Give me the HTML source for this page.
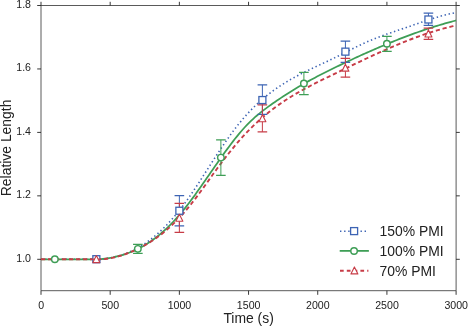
<!DOCTYPE html>
<html><head><meta charset="utf-8"><style>
html,body{margin:0;padding:0;background:#fff;}
svg{display:block;will-change:transform;}
text{font-family:"Liberation Sans",sans-serif;fill:#222;}
.tl{font-size:10.6px;}
.al{font-size:13.9px;}
.lg{font-size:13.9px;}
</style></head><body>
<svg width="468" height="327" viewBox="0 0 468 327">
<path d="M41.0,5.5H456.1M41.0,290.7H456.1M41.0,5.5V290.7M456.1,5.5V290.7" stroke="#5a5a5a" stroke-width="1" fill="none"/>
<path d="M41.00,290.7V294.8M41.00,5.5V1.8M110.18,290.7V294.8M110.18,5.5V1.8M179.37,290.7V294.8M179.37,5.5V1.8M248.55,290.7V294.8M248.55,5.5V1.8M317.73,290.7V294.8M317.73,5.5V1.8M386.92,290.7V294.8M386.92,5.5V1.8M456.10,290.7V294.8M456.10,5.5V1.8M41.0,259.30H37.2M456.1,259.30H459.8M41.0,195.85H37.2M456.1,195.85H459.8M41.0,132.40H37.2M456.1,132.40H459.8M41.0,68.95H37.2M456.1,68.95H459.8M41.0,5.50H37.2M456.1,5.50H459.8" stroke="#222" stroke-width="0.9" fill="none"/>
<path d="M41.00,259.25 L43.00,259.25 L45.00,259.25 L47.00,259.25 L49.00,259.25 L51.00,259.25 L53.00,259.25 L55.00,259.25 L57.00,259.25 L59.00,259.25 L61.00,259.25 L63.00,259.25 L65.00,259.25 L67.00,259.25 L69.00,259.25 L71.00,259.25 L73.00,259.25 L75.00,259.25 L77.00,259.25 L79.00,259.25 L81.00,259.25 L83.00,259.25 L85.00,259.25 L87.00,259.25 L89.00,259.25 L91.00,259.25 L93.00,259.25 L95.00,259.25 L97.00,259.25 L99.00,259.30 L101.00,259.30 L103.00,259.09 L105.00,258.81 L107.00,258.49 L109.00,258.14 L111.00,257.75 L113.00,257.31 L115.00,256.84 L117.00,256.32 L119.00,255.75 L121.00,255.14 L123.00,254.48 L125.00,253.76 L127.00,253.00 L129.00,252.18 L131.00,251.30 L133.00,250.37 L135.00,249.38 L137.00,248.32 L139.00,247.21 L141.00,246.03 L143.00,244.78 L145.00,243.48 L147.00,242.10 L149.00,240.67 L151.00,239.16 L153.00,237.59 L155.00,235.96 L157.00,234.25 L159.00,232.48 L161.00,230.64 L163.00,228.73 L165.00,226.75 L167.00,224.70 L169.00,222.58 L171.00,220.38 L173.00,218.12 L175.00,215.78 L177.00,213.37 L179.00,210.89 L181.00,208.34 L183.00,205.71 L185.00,203.00 L187.00,200.23 L189.00,197.39 L191.00,194.49 L193.00,191.54 L195.00,188.55 L197.00,185.52 L199.00,182.45 L201.00,179.37 L203.00,176.26 L205.00,173.14 L207.00,170.02 L209.00,166.90 L211.00,163.79 L213.00,160.69 L215.00,157.61 L217.00,154.55 L219.00,151.52 L221.00,148.51 L223.00,145.55 L225.00,142.62 L227.00,139.74 L229.00,136.91 L231.00,134.13 L233.00,131.40 L235.00,128.74 L237.00,126.15 L239.00,123.63 L241.00,121.18 L243.00,118.81 L245.00,116.51 L247.00,114.28 L249.00,112.11 L251.00,110.02 L253.00,107.99 L255.00,106.02 L257.00,104.12 L259.00,102.27 L261.00,100.48 L263.00,98.75 L265.00,97.07 L267.00,95.44 L269.00,93.87 L271.00,92.34 L273.00,90.85 L275.00,89.42 L277.00,88.02 L279.00,86.67 L281.00,85.35 L283.00,84.07 L285.00,82.82 L287.00,81.61 L289.00,80.43 L291.00,79.28 L293.00,78.16 L295.00,77.06 L297.00,75.99 L299.00,74.94 L301.00,73.91 L303.00,72.89 L305.00,71.90 L307.00,70.92 L309.00,69.95 L311.00,68.99 L313.00,68.04 L315.00,67.10 L317.00,66.16 L319.00,65.22 L321.00,64.29 L323.00,63.36 L325.00,62.42 L327.00,61.48 L329.00,60.54 L331.00,59.58 L333.00,58.62 L335.00,57.64 L337.00,56.66 L339.00,55.66 L341.00,54.65 L343.00,53.64 L345.00,52.63 L347.00,51.61 L349.00,50.60 L351.00,49.59 L353.00,48.58 L355.00,47.59 L357.00,46.60 L359.00,45.63 L361.00,44.67 L363.00,43.73 L365.00,42.81 L367.00,41.91 L369.00,41.03 L371.00,40.18 L373.00,39.35 L375.00,38.55 L377.00,37.76 L379.00,37.00 L381.00,36.25 L383.00,35.51 L385.00,34.79 L387.00,34.08 L389.00,33.38 L391.00,32.69 L393.00,32.01 L395.00,31.33 L397.00,30.65 L399.00,29.97 L401.00,29.30 L403.00,28.62 L405.00,27.94 L407.00,27.26 L409.00,26.57 L411.00,25.87 L413.00,25.17 L415.00,24.48 L417.00,23.78 L419.00,23.09 L421.00,22.40 L423.00,21.71 L425.00,21.04 L427.00,20.37 L429.00,19.71 L431.00,19.07 L433.00,18.43 L435.00,17.82 L437.00,17.22 L439.00,16.63 L441.00,16.07 L443.00,15.53 L445.00,15.01 L447.00,14.51 L449.00,14.04 L451.00,13.60 L453.00,13.18 L455.00,12.80 L456.10,12.60" fill="none" stroke="#3d64b4" stroke-width="1.6" stroke-dasharray="1.4 2.7"/>
<path d="M41.00,259.25 L43.00,259.25 L45.00,259.25 L47.00,259.25 L49.00,259.25 L51.00,259.25 L53.00,259.25 L55.00,259.25 L57.00,259.25 L59.00,259.25 L61.00,259.25 L63.00,259.25 L65.00,259.25 L67.00,259.25 L69.00,259.25 L71.00,259.25 L73.00,259.25 L75.00,259.25 L77.00,259.25 L79.00,259.25 L81.00,259.25 L83.00,259.25 L85.00,259.25 L87.00,259.25 L89.00,259.25 L91.00,259.25 L93.00,259.25 L95.00,259.25 L97.00,259.25 L99.00,259.30 L101.00,259.20 L103.00,258.97 L105.00,258.71 L107.00,258.42 L109.00,258.10 L111.00,257.74 L113.00,257.35 L115.00,256.91 L117.00,256.44 L119.00,255.93 L121.00,255.38 L123.00,254.79 L125.00,254.15 L127.00,253.46 L129.00,252.73 L131.00,251.95 L133.00,251.12 L135.00,250.24 L137.00,249.31 L139.00,248.32 L141.00,247.27 L143.00,246.17 L145.00,245.01 L147.00,243.79 L149.00,242.51 L151.00,241.16 L153.00,239.75 L155.00,238.28 L157.00,236.74 L159.00,235.13 L161.00,233.46 L163.00,231.72 L165.00,229.91 L167.00,228.03 L169.00,226.09 L171.00,224.08 L173.00,222.00 L175.00,219.86 L177.00,217.65 L179.00,215.37 L181.00,213.03 L183.00,210.61 L185.00,208.14 L187.00,205.59 L189.00,202.99 L191.00,200.34 L193.00,197.64 L195.00,194.89 L197.00,192.11 L199.00,189.30 L201.00,186.46 L203.00,183.60 L205.00,180.72 L207.00,177.83 L209.00,174.93 L211.00,172.03 L213.00,169.14 L215.00,166.25 L217.00,163.38 L219.00,160.52 L221.00,157.69 L223.00,154.88 L225.00,152.10 L227.00,149.36 L229.00,146.65 L231.00,143.99 L233.00,141.39 L235.00,138.83 L237.00,136.34 L239.00,133.90 L241.00,131.54 L243.00,129.25 L245.00,127.03 L247.00,124.90 L249.00,122.86 L251.00,120.90 L253.00,119.02 L255.00,117.22 L257.00,115.48 L259.00,113.81 L261.00,112.19 L263.00,110.63 L265.00,109.10 L267.00,107.62 L269.00,106.16 L271.00,104.73 L273.00,103.32 L275.00,101.93 L277.00,100.55 L279.00,99.19 L281.00,97.86 L283.00,96.53 L285.00,95.23 L287.00,93.94 L289.00,92.67 L291.00,91.42 L293.00,90.19 L295.00,88.97 L297.00,87.77 L299.00,86.58 L301.00,85.41 L303.00,84.26 L305.00,83.12 L307.00,82.00 L309.00,80.89 L311.00,79.80 L313.00,78.72 L315.00,77.65 L317.00,76.59 L319.00,75.55 L321.00,74.52 L323.00,73.49 L325.00,72.48 L327.00,71.47 L329.00,70.48 L331.00,69.49 L333.00,68.51 L335.00,67.53 L337.00,66.57 L339.00,65.60 L341.00,64.65 L343.00,63.69 L345.00,62.75 L347.00,61.80 L349.00,60.86 L351.00,59.93 L353.00,59.00 L355.00,58.07 L357.00,57.15 L359.00,56.23 L361.00,55.32 L363.00,54.42 L365.00,53.52 L367.00,52.62 L369.00,51.74 L371.00,50.85 L373.00,49.98 L375.00,49.11 L377.00,48.24 L379.00,47.38 L381.00,46.53 L383.00,45.69 L385.00,44.85 L387.00,44.02 L389.00,43.20 L391.00,42.38 L393.00,41.57 L395.00,40.77 L397.00,39.97 L399.00,39.18 L401.00,38.40 L403.00,37.63 L405.00,36.87 L407.00,36.11 L409.00,35.37 L411.00,34.63 L413.00,33.90 L415.00,33.17 L417.00,32.46 L419.00,31.76 L421.00,31.06 L423.00,30.37 L425.00,29.70 L427.00,29.03 L429.00,28.37 L431.00,27.72 L433.00,27.08 L435.00,26.46 L437.00,25.84 L439.00,25.23 L441.00,24.63 L443.00,24.04 L445.00,23.46 L447.00,22.90 L449.00,22.34 L451.00,21.79 L453.00,21.26 L455.00,20.74 L456.10,20.45" fill="none" stroke="#3e9e56" stroke-width="1.75"/>
<path d="M41.00,259.25 L43.00,259.25 L45.00,259.25 L47.00,259.25 L49.00,259.25 L51.00,259.25 L53.00,259.25 L55.00,259.25 L57.00,259.25 L59.00,259.25 L61.00,259.25 L63.00,259.25 L65.00,259.25 L67.00,259.25 L69.00,259.25 L71.00,259.25 L73.00,259.25 L75.00,259.25 L77.00,259.25 L79.00,259.25 L81.00,259.25 L83.00,259.25 L85.00,259.25 L87.00,259.25 L89.00,259.25 L91.00,259.25 L93.00,259.25 L95.00,259.25 L97.00,259.25 L99.00,259.30 L101.00,259.30 L103.00,259.25 L105.00,259.02 L107.00,258.74 L109.00,258.43 L111.00,258.07 L113.00,257.66 L115.00,257.20 L117.00,256.70 L119.00,256.15 L121.00,255.55 L123.00,254.91 L125.00,254.23 L127.00,253.50 L129.00,252.74 L131.00,251.93 L133.00,251.08 L135.00,250.20 L137.00,249.27 L139.00,248.30 L141.00,247.29 L143.00,246.23 L145.00,245.13 L147.00,243.98 L149.00,242.79 L151.00,241.54 L153.00,240.24 L155.00,238.89 L157.00,237.49 L159.00,236.03 L161.00,234.51 L163.00,232.94 L165.00,231.31 L167.00,229.62 L169.00,227.87 L171.00,226.06 L173.00,224.18 L175.00,222.24 L177.00,220.23 L179.00,218.16 L181.00,216.01 L183.00,213.80 L185.00,211.52 L187.00,209.16 L189.00,206.73 L191.00,204.24 L193.00,201.69 L195.00,199.09 L197.00,196.44 L199.00,193.75 L201.00,191.02 L203.00,188.26 L205.00,185.48 L207.00,182.69 L209.00,179.88 L211.00,177.08 L213.00,174.28 L215.00,171.51 L217.00,168.76 L219.00,166.05 L221.00,163.36 L223.00,160.71 L225.00,158.10 L227.00,155.52 L229.00,152.99 L231.00,150.49 L233.00,148.04 L235.00,145.63 L237.00,143.26 L239.00,140.94 L241.00,138.67 L243.00,136.45 L245.00,134.28 L247.00,132.16 L249.00,130.09 L251.00,128.08 L253.00,126.11 L255.00,124.20 L257.00,122.33 L259.00,120.51 L261.00,118.74 L263.00,117.01 L265.00,115.32 L267.00,113.68 L269.00,112.07 L271.00,110.51 L273.00,108.98 L275.00,107.49 L277.00,106.04 L279.00,104.61 L281.00,103.23 L283.00,101.87 L285.00,100.55 L287.00,99.25 L289.00,97.98 L291.00,96.74 L293.00,95.52 L295.00,94.33 L297.00,93.16 L299.00,92.01 L301.00,90.89 L303.00,89.78 L305.00,88.69 L307.00,87.61 L309.00,86.56 L311.00,85.51 L313.00,84.48 L315.00,83.46 L317.00,82.45 L319.00,81.45 L321.00,80.46 L323.00,79.47 L325.00,78.49 L327.00,77.52 L329.00,76.54 L331.00,75.57 L333.00,74.60 L335.00,73.63 L337.00,72.66 L339.00,71.68 L341.00,70.71 L343.00,69.74 L345.00,68.77 L347.00,67.80 L349.00,66.83 L351.00,65.87 L353.00,64.90 L355.00,63.94 L357.00,62.98 L359.00,62.03 L361.00,61.07 L363.00,60.12 L365.00,59.18 L367.00,58.24 L369.00,57.30 L371.00,56.37 L373.00,55.45 L375.00,54.53 L377.00,53.61 L379.00,52.70 L381.00,51.80 L383.00,50.91 L385.00,50.02 L387.00,49.14 L389.00,48.26 L391.00,47.40 L393.00,46.54 L395.00,45.69 L397.00,44.85 L399.00,44.02 L401.00,43.20 L403.00,42.39 L405.00,41.59 L407.00,40.80 L409.00,40.02 L411.00,39.25 L413.00,38.49 L415.00,37.74 L417.00,37.01 L419.00,36.29 L421.00,35.58 L423.00,34.88 L425.00,34.20 L427.00,33.53 L429.00,32.87 L431.00,32.23 L433.00,31.60 L435.00,30.99 L437.00,30.39 L439.00,29.81 L441.00,29.24 L443.00,28.69 L445.00,28.16 L447.00,27.64 L449.00,27.14 L451.00,26.66 L453.00,26.19 L455.00,25.74 L456.10,25.50" fill="none" stroke="#c73c47" stroke-width="1.9" stroke-dasharray="4.2 2.8"/>

<path d="M179.37,195.60V225.90" stroke="#3d64b4" stroke-width="1.0" fill="none"/><path d="M174.57,195.60H184.17M174.57,225.90H184.17" stroke="#3d64b4" stroke-width="1.25" fill="none"/>
<path d="M262.39,84.90V114.30" stroke="#3d64b4" stroke-width="1.0" fill="none"/><path d="M257.59,84.90H267.19M257.59,114.30H267.19" stroke="#3d64b4" stroke-width="1.25" fill="none"/>
<path d="M345.41,41.00V62.30" stroke="#3d64b4" stroke-width="1.0" fill="none"/><path d="M340.61,41.00H350.21M340.61,62.30H350.21" stroke="#3d64b4" stroke-width="1.25" fill="none"/>
<path d="M428.43,13.20V25.40" stroke="#3d64b4" stroke-width="1.0" fill="none"/><path d="M423.63,13.20H433.23M423.63,25.40H433.23" stroke="#3d64b4" stroke-width="1.25" fill="none"/>

<path d="M137.86,244.40V253.30" stroke="#3e9e56" stroke-width="1.0" fill="none"/><path d="M133.06,244.40H142.66M133.06,253.30H142.66" stroke="#3e9e56" stroke-width="1.25" fill="none"/>
<path d="M220.88,139.90V175.30" stroke="#3e9e56" stroke-width="1.0" fill="none"/><path d="M216.08,139.90H225.68M216.08,175.30H225.68" stroke="#3e9e56" stroke-width="1.25" fill="none"/>
<path d="M303.90,72.40V94.70" stroke="#3e9e56" stroke-width="1.0" fill="none"/><path d="M299.10,72.40H308.70M299.10,94.70H308.70" stroke="#3e9e56" stroke-width="1.25" fill="none"/>
<path d="M386.92,36.25V51.40" stroke="#3e9e56" stroke-width="1.0" fill="none"/><path d="M382.12,36.25H391.72M382.12,51.40H391.72" stroke="#3e9e56" stroke-width="1.25" fill="none"/>

<path d="M179.37,203.40V232.30" stroke="#c73c47" stroke-width="1.0" fill="none"/><path d="M174.57,203.40H184.17M174.57,232.30H184.17" stroke="#c73c47" stroke-width="1.25" fill="none"/>
<path d="M262.39,104.90V131.90" stroke="#c73c47" stroke-width="1.0" fill="none"/><path d="M257.59,104.90H267.19M257.59,131.90H267.19" stroke="#c73c47" stroke-width="1.25" fill="none"/>
<path d="M345.41,58.30V77.20" stroke="#c73c47" stroke-width="1.0" fill="none"/><path d="M340.61,58.30H350.21M340.61,77.20H350.21" stroke="#c73c47" stroke-width="1.25" fill="none"/>
<path d="M428.43,28.10V39.40" stroke="#c73c47" stroke-width="1.0" fill="none"/><path d="M423.63,28.10H433.23M423.63,39.40H433.23" stroke="#c73c47" stroke-width="1.25" fill="none"/>
<rect x="92.85" y="255.70" width="7.0" height="7.0" fill="#fff" stroke="#3d64b4" stroke-width="1.3"/>
<rect x="175.87" y="207.25" width="7.0" height="7.0" fill="#fff" stroke="#3d64b4" stroke-width="1.3"/>
<rect x="258.89" y="96.55" width="7.0" height="7.0" fill="#fff" stroke="#3d64b4" stroke-width="1.3"/>
<rect x="341.91" y="48.15" width="7.0" height="7.0" fill="#fff" stroke="#3d64b4" stroke-width="1.3"/>
<rect x="424.93" y="16.00" width="7.0" height="7.0" fill="#fff" stroke="#3d64b4" stroke-width="1.3"/>
<path d="M91.55,259.2H101.15" stroke="#c73c47" stroke-width="1.2" fill="none"/>
<circle cx="54.84" cy="259.20" r="3.25" fill="#fff" stroke="#3e9e56" stroke-width="1.45"/>
<circle cx="137.86" cy="248.85" r="3.25" fill="#fff" stroke="#3e9e56" stroke-width="1.45"/>
<circle cx="220.88" cy="157.60" r="3.25" fill="#fff" stroke="#3e9e56" stroke-width="1.45"/>
<circle cx="303.90" cy="83.55" r="3.25" fill="#fff" stroke="#3e9e56" stroke-width="1.45"/>
<circle cx="386.92" cy="43.80" r="3.25" fill="#fff" stroke="#3e9e56" stroke-width="1.45"/>
<path d="M96.35,255.60L99.85,262.60L92.85,262.60Z" fill="#fff" stroke="#c73c47" stroke-width="1.1" stroke-linejoin="round"/>
<path d="M179.37,214.25L182.87,221.25L175.87,221.25Z" fill="#fff" stroke="#c73c47" stroke-width="1.1" stroke-linejoin="round"/>
<path d="M262.39,114.80L265.89,121.80L258.89,121.80Z" fill="#fff" stroke="#c73c47" stroke-width="1.1" stroke-linejoin="round"/>
<path d="M345.41,64.15L348.91,71.15L341.91,71.15Z" fill="#fff" stroke="#c73c47" stroke-width="1.1" stroke-linejoin="round"/>
<path d="M428.43,30.00L431.93,37.00L424.93,37.00Z" fill="#fff" stroke="#c73c47" stroke-width="1.1" stroke-linejoin="round"/>
<path d="M340,231.2H367" stroke="#3d64b4" stroke-width="1.6" stroke-dasharray="1.4 2.7" fill="none"/>
<rect x="350.60" y="227.60" width="7.0" height="7.0" fill="#fff" stroke="#3d64b4" stroke-width="1.3"/>
<path d="M339.7,250.9H368.9" stroke="#3e9e56" stroke-width="1.75" fill="none"/>
<circle cx="354.05" cy="250.95" r="3.25" fill="#fff" stroke="#3e9e56" stroke-width="1.45"/>
<path d="M340,270.8H368.4" stroke="#c73c47" stroke-width="1.9" stroke-dasharray="3.7 3.1" fill="none"/>
<path d="M354.40,266.90L357.90,273.90L350.90,273.90Z" fill="#fff" stroke="#c73c47" stroke-width="1.1" stroke-linejoin="round"/>
<text x="379.6" y="235.7" class="lg">150% PMI</text>
<text x="379.6" y="255.6" class="lg">100% PMI</text>
<text x="379.6" y="275.8" class="lg">70% PMI</text>
<text x="41.10" y="309.0" text-anchor="middle" class="tl">0</text>
<text x="110.28" y="309.0" text-anchor="middle" class="tl">500</text>
<text x="179.47" y="309.0" text-anchor="middle" class="tl">1000</text>
<text x="248.65" y="309.0" text-anchor="middle" class="tl">1500</text>
<text x="317.83" y="309.0" text-anchor="middle" class="tl">2000</text>
<text x="387.02" y="309.0" text-anchor="middle" class="tl">2500</text>
<text x="456.20" y="309.0" text-anchor="middle" class="tl">3000</text>
<text x="31.0" y="261.50" text-anchor="end" class="tl">1.0</text>
<text x="31.0" y="198.05" text-anchor="end" class="tl">1.2</text>
<text x="31.0" y="134.60" text-anchor="end" class="tl">1.4</text>
<text x="31.0" y="71.15" text-anchor="end" class="tl">1.6</text>
<text x="31.0" y="7.70" text-anchor="end" class="tl">1.8</text>
<text x="248.6" y="323.2" text-anchor="middle" class="al">Time (s)</text>
<text transform="translate(10.8,147.9) rotate(-90)" text-anchor="middle" class="al">Relative Length</text>
</svg>
</body></html>
